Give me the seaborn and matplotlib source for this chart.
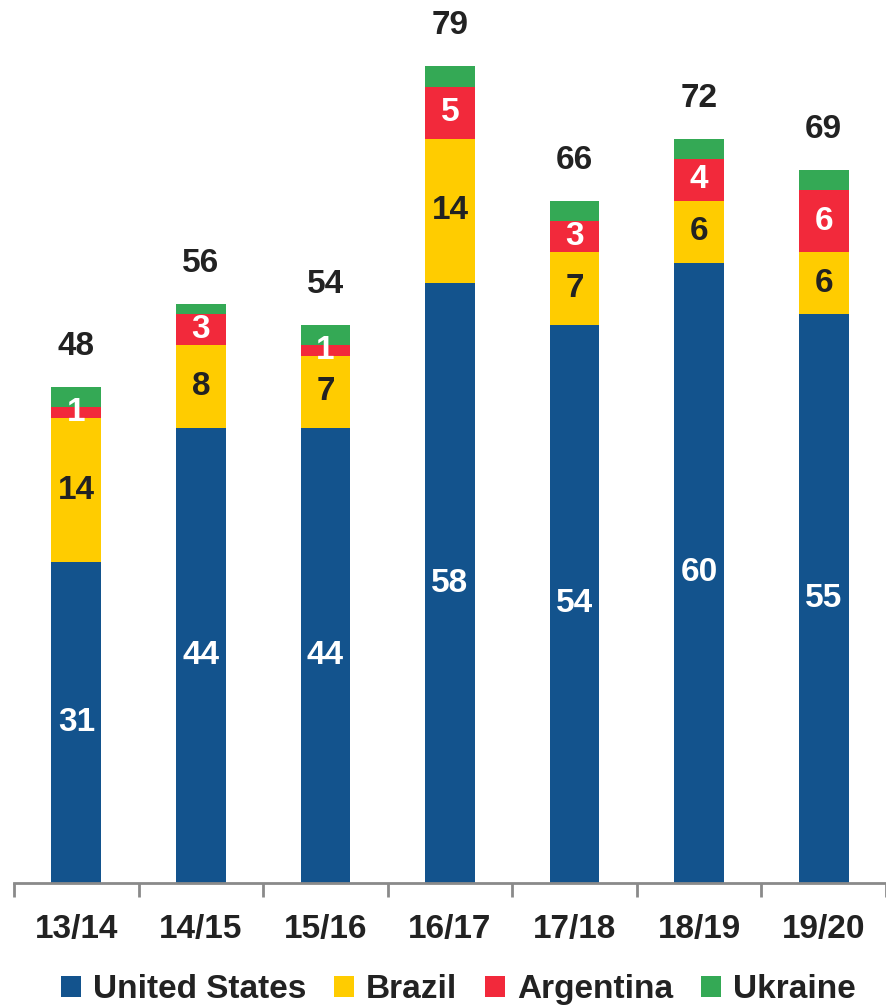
import matplotlib
matplotlib.use("Agg")
import matplotlib.pyplot as plt
from matplotlib.patches import Patch
import numpy as np
import pandas as pd
import seaborn as sns

seasons = ["13/14", "14/15", "15/16", "16/17", "17/18", "18/19", "19/20"]
united_states = [31, 44, 44, 58, 54, 60, 55]
brazil = [14, 8, 7, 14, 7, 6, 6]
argentina = [1, 3, 1, 5, 3, 4, 6]
ukraine = [2, 1, 2, 2, 2, 2, 2]

series_names = ["United States", "Brazil", "Argentina", "Ukraine"]
series_values = [united_states, brazil, argentina, ukraine]
colors = ["#13538D", "#FFCC00", "#F2293B", "#34A955"]
label_colors = ["white", "#222222", "white", None]

sns.set_theme(style="white")
plt.rcParams["font.family"] = ["Liberation Sans", "DejaVu Sans"]
plt.rcParams["font.weight"] = "bold"

FS = 24

fig = plt.figure(figsize=(8.86, 10.05), dpi=100)
ax = fig.add_axes([14 / 886, 122 / 1005, 872 / 886, 883 / 1005])

df = pd.DataFrame({"season": seasons})
for name, vals in zip(series_names, series_values):
    df[name] = vals
cum = df[series_names].cumsum(axis=1)
df["total"] = cum[series_names[-1]]

# Layer cumulative bars from the top series down so each shows as a stacked segment
for name, color in reversed(list(zip(series_names, colors))):
    sns.barplot(data=cum.assign(season=seasons), x="season", y=name,
                color=color, width=0.4, saturation=1, ax=ax,
                edgecolor="none", linewidth=0)

# Segment labels
for i in range(len(seasons)):
    bottom = 0
    for name, tc in zip(series_names, label_colors):
        v = df.loc[i, name]
        if tc is not None:
            ax.text(i, bottom + v / 2, f"{v:g}", ha="center", va="center",
                    color=tc, fontsize=FS, fontweight="bold")
        bottom += v
    ax.annotate(f"{df.loc[i, 'total']:g}", (i, df.loc[i, "total"]),
                xytext=(0, 18), textcoords="offset points",
                ha="center", va="bottom", color="#222222",
                fontsize=FS, fontweight="bold")

ax.set_xlim(-0.5, len(seasons) - 0.5)
ax.set_ylim(0, 85.4)
ax.set_xlabel("")
ax.set_ylabel("")
ax.set_yticks([])
for s in ["top", "right", "left"]:
    ax.spines[s].set_visible(False)
ax.spines["bottom"].set_color("#8a8a8a")
ax.spines["bottom"].set_linewidth(2)

# Category labels centred, tick marks on category boundaries
ax.set_xticks(range(len(seasons)))
ax.set_xticklabels(seasons, fontsize=FS, fontweight="bold", color="#222222")
ax.tick_params(axis="x", which="major", length=0, pad=22)
ax.set_xticks(np.arange(-0.5, len(seasons) + 0.5, 1), minor=True)
ax.tick_params(axis="x", which="minor", length=10, width=2, color="#8a8a8a",
               direction="out", bottom=True)

handles = [Patch(facecolor=c, edgecolor="none", label=n)
           for n, c in zip(series_names, colors)]
fig.legend(handles=handles, loc="center", bbox_to_anchor=(0.5175, 0.015),
           ncol=4, frameon=False,
           prop={"weight": "bold", "size": FS},
           handlelength=0.6, handleheight=0.6, handletextpad=0.35,
           columnspacing=0.84, labelcolor="#222222")

fig.savefig("out.png", dpi=100)
